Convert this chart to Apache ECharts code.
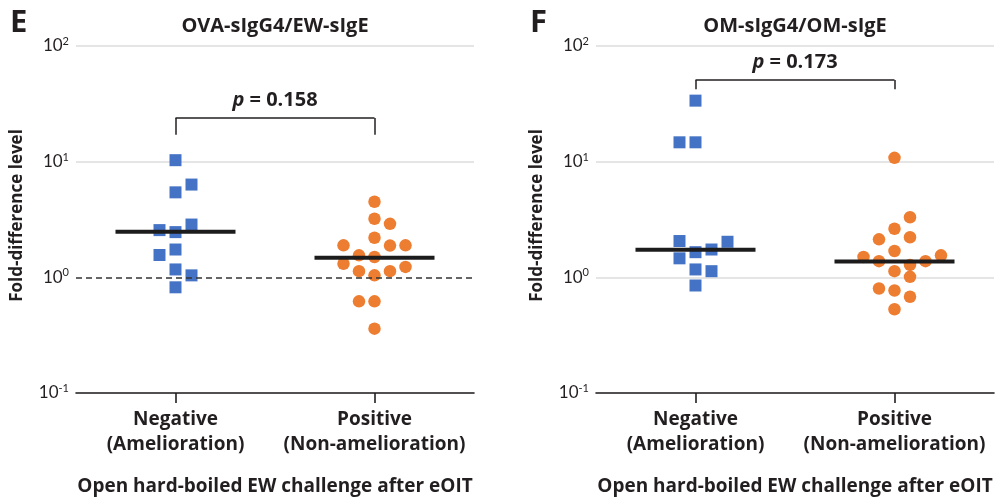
<!DOCTYPE html>
<html><head><meta charset="utf-8">
<script src="https://cdn.jsdelivr.net/npm/echarts@6/dist/echarts.min.js"></script>
<style>html,body{margin:0;padding:0;background:#fff}#c{width:996px;height:501px}</style>
</head><body><div id="c"></div>
<script>
// ---------- data ----------
const categories = ['Negative\n(Amelioration)', 'Positive\n(Non-amelioration)'];
const panelTitles = ['OVA-sIgG4/EW-sIgE', 'OM-sIgG4/OM-sIgE'];
const panelLetters = ['E', 'F'];
const pValues = ['0.158', '0.173'];
const xAxisName = 'Open hard-boiled EW challenge after eOIT';
const yAxisName = 'Fold-difference level';

const eNegative = [10.3, 6.34, 5.43, 2.86, 2.56, 2.46, 1.74, 1.56, 1.17, 1.04, 0.82];
const ePositive = [4.5, 3.21, 2.90, 2.20, 1.89, 1.88, 1.89, 1.55, 1.50, 1.31, 1.23, 1.13, 1.13, 1.04, 0.62, 0.62, 0.36];
const eMedians = [2.48, 1.48];

const fNegative = [33.7, 14.7, 14.7, 2.06, 2.03, 1.74, 1.65, 1.46, 1.17, 1.13, 0.85];
const fPositive = [10.8, 3.31, 2.63, 2.13, 2.22, 1.69, 1.50, 1.38, 1.28, 1.38, 1.55, 1.13, 1.01, 0.80, 0.77, 0.68, 0.53];
const fMedians = [1.73, 1.37];

// bracket levels (top, tick end) in data units
const eBracket = [23.9, 17.1];
const fBracket = [50.9, 42.2];

// swarm layout columns (layout only)
const eNegCols = [0, 1, 0, 1, -1, 0, 0, -1, 0, 1, 0];
const ePosCols = [0, 0, 1, 0, -2, 1, 2, -1, 0, -2, 2, -1, 1, 0, -1, 0, 0];
const fNegCols = [0, -1, 0, -1, 2, 1, 0, -1, 0, 1, 0];
const fPosCols = [0, 1, 0, -1, 1, 0, -2, -1, 1, 2, 3, 0, 1, -1, 0, 1, 0];

// ---------- chart ----------
const FONT = '"Open Sans"';
const TICKFONT = 'Lato';
const TXT = '#231f20';
const BLUE = '#4472c4';
const ORANGE = '#ed7d31';
const chart = echarts.init(document.getElementById('c'), null, {renderer: 'canvas'});

const panels = [
  {neg: eNegative, pos: ePositive, med: eMedians, br: eBracket, nc: eNegCols, pc: ePosCols, p: pValues[0], dashed: true},
  {neg: fNegative, pos: fPositive, med: fMedians, br: fBracket, nc: fNegCols, pc: fPosCols, p: pValues[1], dashed: false}
];
const gridLefts = [76, 596];

const grids = gridLefts.map(l => ({left: l, width: 398, top: 46, height: 348.5, containLabel: false}));
const xAxes = gridLefts.map((l, i) => ({
  type: 'category', gridIndex: i, data: categories, boundaryGap: true,
  axisLine: {show: true, lineStyle: {color: '#231f20', width: 1.6}},
  axisTick: {show: true, alignWithLabel: true, interval: 0, length: 10, lineStyle: {color: '#231f20', width: 1.6}},
  axisLabel: {interval: 0, hideOverlap: false, fontFamily: FONT, fontWeight: 'bold', fontSize: 19, lineHeight: 25, color: TXT, margin: 14},
  name: xAxisName, nameLocation: 'middle', nameGap: 84,
  nameTextStyle: {fontFamily: FONT, fontWeight: 'bold', fontSize: 19, color: TXT}
}));
const yAxes = gridLefts.map((l, i) => ({
  type: 'log', logBase: 10, gridIndex: i, min: 0.1, max: 100,
  axisLine: {show: false}, axisTick: {show: false},
  splitLine: {show: true, lineStyle: {color: i === 0 ? ['#dcdcdc', 'rgba(0,0,0,0)', '#dcdcdc', '#dcdcdc'] : '#dcdcdc', width: 1.5}},
  axisLabel: {
    margin: 7,
    formatter: v => '{b|10}{s|' + Math.round(Math.log10(v)) + '}',
    rich: {
      b: {fontFamily: TICKFONT, fontSize: 17, color: TXT, lineHeight: 20},
      s: {fontFamily: TICKFONT, fontSize: 11, color: TXT, lineHeight: 12, verticalAlign: 'top'}
    }
  },
  name: yAxisName, nameLocation: 'middle', nameRotate: 90, nameGap: 50,
  nameTextStyle: {fontFamily: FONT, fontWeight: 'bold', fontSize: 17, color: TXT, padding: [0, 0, 0, 8]}
}));

const series = [];
panels.forEach((pn, i) => {
  series.push({
    type: 'scatter', xAxisIndex: i, yAxisIndex: i, symbol: 'rect', symbolSize: 12, z: 3,
    itemStyle: {color: BLUE, opacity: 1},
    data: pn.neg.map((v, k) => ({value: [0, v], symbolOffset: [pn.nc[k] * 16, 0]}))
  });
  series.push({
    type: 'scatter', xAxisIndex: i, yAxisIndex: i, symbol: 'circle', symbolSize: 12.5, z: 3,
    itemStyle: {color: ORANGE, opacity: 1},
    data: pn.pos.map((v, k) => ({value: [1, v], symbolOffset: [pn.pc[k] * 15.5, 0]}))
  });
  const ml = [
    [{coord: [0, pn.br[0]], label: {show: true, position: 'middle', distance: 8,
      formatter: '{i|p}{n| = ' + pn.p + '}',
      rich: {i: {fontFamily: FONT, fontWeight: 'bold', fontStyle: 'italic', fontSize: 20, color: TXT},
             n: {fontFamily: FONT, fontWeight: 'bold', fontSize: 20, color: TXT}}}},
     {coord: [1, pn.br[0]]}],
    [{coord: [0, pn.br[0]]}, {coord: [0, pn.br[1]]}],
    [{coord: [1, pn.br[0]]}, {coord: [1, pn.br[1]]}]
  ];
  if (pn.dashed) {
    ml.push({yAxis: 1, lineStyle: {type: [6, 4], color: '#333', width: 1.5}});
  }
  series.push({
    type: 'scatter', xAxisIndex: i, yAxisIndex: i, symbol: 'rect', symbolSize: [120, 4], z: 5,
    itemStyle: {color: '#1c1c1c', opacity: 1},
    data: pn.med.map((m, k) => [k, m]),
    markLine: {
      silent: true, symbol: ['none', 'none'], animation: false,
      lineStyle: {color: '#231f20', width: 1.5, type: 'solid'},
      label: {show: false},
      data: ml
    }
  });
});

const graphic = [];
gridLefts.forEach((l, i) => {
  graphic.push({type: 'text', x: l + 199, y: 26, style: {text: panelTitles[i], font: 'bold 20px ' + FONT, fill: TXT, align: 'center', verticalAlign: 'middle'}});
  graphic.push({type: 'text', x: l - 66, y: 23, style: {text: panelLetters[i], font: 'bold 31px ' + FONT, fill: TXT, align: 'left', verticalAlign: 'middle'}});
});

chart.setOption({
  animation: false,
  backgroundColor: '#fff',
  grid: grids, xAxis: xAxes, yAxis: yAxes, series: series, graphic: graphic
});
</script></body></html>
